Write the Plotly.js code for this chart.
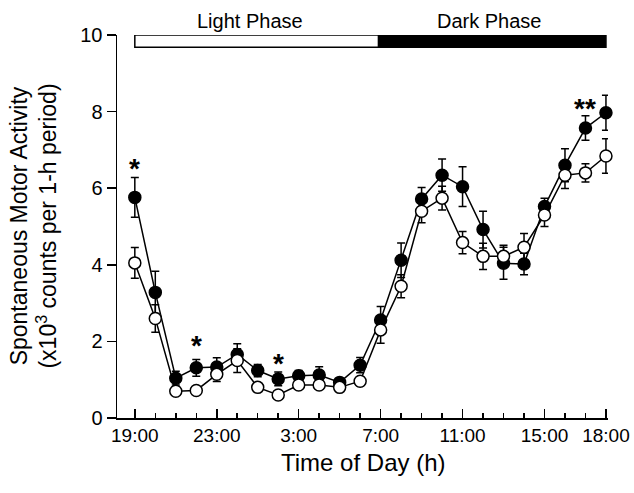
<!DOCTYPE html>
<html>
<head>
<meta charset="utf-8">
<script src="https://cdn.plot.ly/plotly-3.0.1.min.js"></script>
<style>body{margin:0;background:#fff}#chart{width:634px;height:493px}</style>
</head>
<body>
<div id="chart"></div>
<script>
// hours from 19:00 (index 0) to 18:00 (index 23)
const hourIndex = [0,1,2,3,4,5,6,7,8,9,10,11,12,13,14,15,16,17,18,19,20,21,22,23];
const tickIndex = [0,4,8,12,16,20,23];
const tickLabels = ["19:00","23:00","3:00","7:00","11:00","15:00","18:00"];

const filledMean = [5.76,3.28,1.04,1.31,1.33,1.66,1.24,1.02,1.1,1.12,0.93,1.38,2.56,4.12,5.72,6.34,6.04,4.92,4.04,4.02,5.52,6.6,7.57,7.97];
const filledErr  = [0.52,0.55,0.18,0.22,0.24,0.28,0.16,0.18,0.14,0.22,0.1,0.2,0.35,0.45,0.3,0.42,0.52,0.48,0.42,0.28,0.22,0.43,0.32,0.46];
const openMean   = [4.05,2.6,0.7,0.72,1.14,1.5,0.8,0.6,0.86,0.86,0.8,0.96,2.3,3.44,5.4,5.74,4.58,4.22,4.22,4.46,5.3,6.34,6.4,6.84];
const openErr    = [0.4,0.36,0.1,0.1,0.19,0.31,0.08,0.08,0.1,0.1,0.08,0.12,0.35,0.3,0.3,0.31,0.29,0.34,0.29,0.36,0.3,0.35,0.24,0.45];

const starIndex = [0,3,7,22];
const starText  = ["*","*","*","**"];
const starY     = [6.6,1.98,1.5,8.15];

const phaseLabels = ["Light Phase","Dark Phase"];
const phaseStart = [0,11.9];
const phaseEnd   = [11.9,23];
const phaseFill  = ["#ffffff","#000000"];

const FONT = 'Liberation Sans, Arial, Helvetica, sans-serif';

const traces = [
  {x: hourIndex, y: filledMean, type:'scatter', mode:'lines+markers',
   line:{color:'#000',width:1.5},
   marker:{symbol:'circle',size:12,color:'#000',line:{color:'#000',width:1.5}},
   error_y:{type:'data',array:filledErr,visible:true,color:'#000',thickness:1.5,width:4},
   cliponaxis:false},
  {x: hourIndex, y: openMean, type:'scatter', mode:'lines+markers',
   line:{color:'#000',width:1.5},
   marker:{symbol:'circle',size:12,color:'#fff',line:{color:'#000',width:1.5}},
   error_y:{type:'data',array:openErr,visible:true,color:'#000',thickness:1.5,width:4},
   cliponaxis:false}
];

const shapes = [];
for (let i=0;i<phaseStart.length;i++){
  shapes.push({type:'rect',xref:'x',yref:'y',x0:phaseStart[i],x1:phaseEnd[i],y0:9.68,y1:10,
    fillcolor:phaseFill[i],line:{color:'#000',width:1.5},layer:'above'});
}

const annotations = [];
for (let i=0;i<starIndex.length;i++){
  annotations.push({x:starIndex[i],y:starY[i],xref:'x',yref:'y',text:'<b>'+starText[i]+'</b>',showarrow:false,
    font:{family:FONT,size:28,color:'#000'},yanchor:'middle',yshift:-3});
}
const phaseLabelX = [5.6,17.3];
for (let i=0;i<phaseLabels.length;i++){
  annotations.push({x:phaseLabelX[i],y:1,xref:'x',yref:'paper',yanchor:'bottom',yshift:1,text:phaseLabels[i],
    showarrow:false,font:{family:FONT,size:20,color:'#000'}});
}
annotations.push({x:-0.171,y:0.5,xref:'paper',yref:'paper',textangle:-90,showarrow:false,
  text:'Spontaneous Motor Activity<br>(x10<sup>3</sup> counts per 1-h period)',
  font:{family:FONT,size:23,color:'#000'},xanchor:'center',yanchor:'middle'});
annotations.push({x:0.5,y:-0.115,xref:'paper',yref:'paper',showarrow:false,
  text:'Time of Day (h)',font:{family:FONT,size:24,color:'#000'},xanchor:'center',yanchor:'middle'});

const layout = {
  width:634,height:493,
  margin:{l:117,r:26,t:35,b:75},
  paper_bgcolor:'#fff',plot_bgcolor:'#fff',
  showlegend:false,
  font:{family:FONT,color:'#000'},
  xaxis:{range:[-0.87,23.1],tickmode:'array',tickvals:tickIndex,ticktext:tickLabels,
    ticks:'inside',ticklen:9,tickwidth:1.5,tickcolor:'#000',
    minor:{tickmode:'linear',tick0:0,dtick:1,ticks:'inside',ticklen:5,tickwidth:1.5,tickcolor:'#000'},
    showline:true,linecolor:'#000',linewidth:1.5,showgrid:false,zeroline:false,
    tickfont:{size:19,family:FONT}},
  yaxis:{range:[0,10],tickvals:[0,2,4,6,8,10],ticks:'outside',ticklen:9,tickwidth:1.5,tickcolor:'#000',
    showline:true,linecolor:'#000',linewidth:1.5,showgrid:false,zeroline:false,
    tickfont:{size:20,family:FONT}},
  shapes:shapes,
  annotations:annotations
};

Plotly.newPlot('chart',traces,layout,{displayModeBar:false,staticPlot:true});
</script>
</body>
</html>
